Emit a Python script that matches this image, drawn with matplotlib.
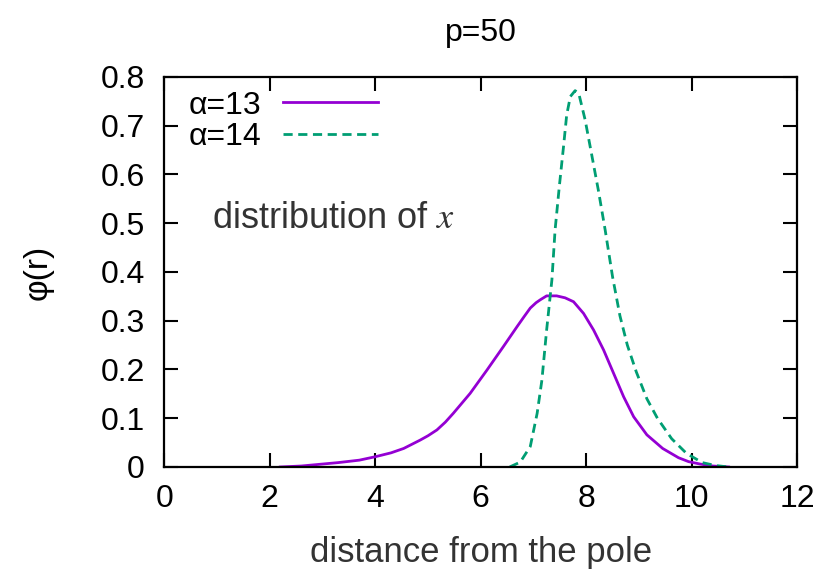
import numpy as np
import matplotlib.pyplot as plt

plt.rcParams['font.family'] = ['Liberation Sans', 'DejaVu Sans']
plt.rcParams['mathtext.fontset'] = 'stix'

# alpha = 13 (solid purple)
r13 = [2.2, 2.6, 2.9, 3.3, 3.7, 4.0, 4.3, 4.54, 4.85, 5.0, 5.17, 5.33, 5.48,
       5.8, 6.12, 6.43, 6.69, 6.82, 6.94, 7.05, 7.13, 7.25, 7.44, 7.6, 7.76,
       7.95, 8.14, 8.33, 8.52, 8.71, 8.9, 9.15, 9.45, 9.75, 9.94, 10.16,
       10.4, 10.7]
phi13 = [0.0, 0.002, 0.005, 0.009, 0.014, 0.021, 0.029, 0.038, 0.055, 0.064,
         0.076, 0.092, 0.11, 0.151, 0.199, 0.247, 0.288, 0.308, 0.326, 0.337,
         0.343, 0.351, 0.351, 0.347, 0.339, 0.315, 0.281, 0.24, 0.192, 0.144,
         0.103, 0.066, 0.038, 0.019, 0.011, 0.006, 0.002, 0.0]

# alpha = 14 (dashed green)
r14 = [6.55, 6.75, 6.94, 7.07, 7.16, 7.25, 7.35, 7.41, 7.49, 7.57, 7.63, 7.7,
       7.79, 7.86, 7.98, 8.1, 8.23, 8.36, 8.5, 8.64, 8.78, 8.95, 9.15, 9.35,
       9.62, 9.9, 10.2, 10.45, 10.7]
phi14 = [0.0, 0.01, 0.042, 0.11, 0.178, 0.281, 0.384, 0.486, 0.575, 0.657,
         0.722, 0.76, 0.772, 0.766, 0.712, 0.643, 0.568, 0.486, 0.39, 0.31,
         0.25, 0.195, 0.14, 0.1, 0.058, 0.028, 0.009, 0.003, 0.0]

xticks = np.arange(0, 13, 2)
yticks = np.arange(0, 0.81, 0.1)
yticklabels = ['0', '0.1', '0.2', '0.3', '0.4', '0.5', '0.6', '0.7', '0.8']

fig = plt.figure(figsize=(8.21, 5.72), dpi=100)
ax = fig.add_axes([0.2, 0.1836, 0.771, 0.6818])

ax.plot(r13, phi13, '-', color='#9400D3', lw=2.0, label='α=13')
ax.plot(r14, phi14, '--', color='#009E73', lw=2.0, dashes=(3.3, 2.0),
        label='α=14')

ax.set_xlim(0, 12)
ax.set_ylim(0, 0.8)
ax.set_xticks(xticks)
ax.set_yticks(yticks)
ax.set_yticklabels(yticklabels)
ax.tick_params(direction='in', length=10, width=1.5, labelsize=23,
               top=True, right=True)
ax.tick_params(axis='y', pad=14)
ax.tick_params(axis='x', pad=12)
for s in ax.spines.values():
    s.set_linewidth(1.6)

ax.set_title('p=50', fontsize=23, pad=26)
ax.set_xlabel('distance from the pole', fontsize=25, color='#333333',
              labelpad=16)
ax.set_ylabel('φ(r)', fontsize=24, labelpad=34)

ax.text(0.91, 0.51, 'distribution of $x$', fontsize=26, color='#333333',
        va='center', ha='left')

ax.legend(loc='upper left', bbox_to_anchor=(0.038, 0.965), frameon=False,
          fontsize=23, markerfirst=False, handlelength=2.95,
          handletextpad=0.7, labelspacing=0.05, borderpad=0,
          borderaxespad=0)

fig.savefig('out.png', dpi=100)
